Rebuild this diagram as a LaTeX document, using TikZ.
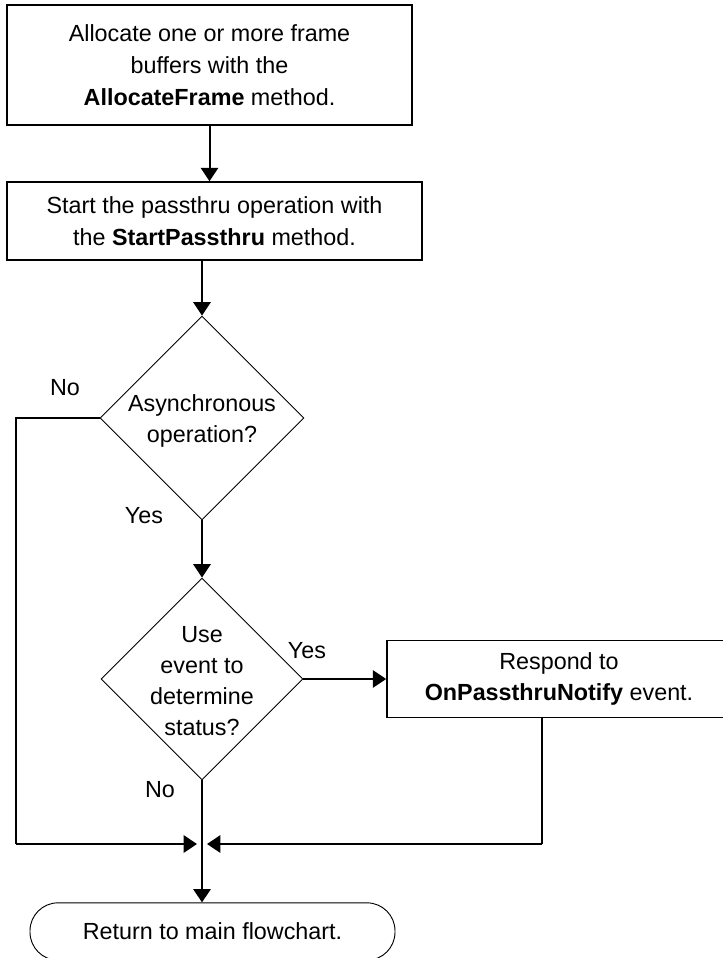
\documentclass[tikz,border=0pt]{standalone}
\usepackage{fontspec}
\setmainfont{Liberation Sans}
\usetikzlibrary{shapes.geometric,arrows.meta}
\begin{document}
\begin{tikzpicture}[x=0.75pt,y=-0.75pt,
  txt/.style={font=\fontsize{17.5pt}{23.25pt}\selectfont,align=center,inner sep=0pt},
  process/.style={draw,line width=1.25pt,inner sep=0pt,font=\fontsize{17.5pt}{23.75pt}\selectfont,align=center},
  decision/.style={draw,diamond,line width=0.7pt,inner sep=0pt,aspect=1},
  terminal/.style={draw,line width=0.7pt,rounded corners=21pt,inner sep=0pt,font=\fontsize{17.5pt}{23pt}\selectfont},
  conn/.style={line width=1.5pt},
  arr/.style={conn,-{Triangle[length=10pt,width=13pt]}},
  lbl/.style={font=\fontsize{17.5pt}{20pt}\selectfont,inner sep=0pt}
]
\useasboundingbox (0,0) rectangle (723,958);
\clip (0,0) rectangle (723,958);

% process boxes
\node[process,minimum width=303.75pt,minimum height=90pt] (alloc) at (209.5,65)
  {Allocate one or more frame\\buffers with the\\\textbf{AllocateFrame} method.};
\node[process,minimum width=311.25pt,minimum height=58.5pt] (start) at (214.5,221)
  {Start the passthru operation with\\the \textbf{StartPassthru} method.};

% decisions
\node[decision,minimum width=153pt,minimum height=153pt] (async) at (202,418) {};
\node[txt] (asynct) at (202,421) {Asynchronous\\operation?};
\node[decision,minimum width=151.5pt,minimum height=151.5pt] (event) at (202,679) {};
\node[txt] (eventt) at (202,681) {Use\\event to\\determine\\status?};

% notification handler box
\node[process,minimum width=258pt,minimum height=57.75pt] (notify) at (559,679)
  {Respond to\\\textbf{OnPassthruNotify} event.};

% terminal
\node[terminal,minimum width=273.75pt,minimum height=43pt] (ret) at (212.5,931.5)
  {Return to main flowchart.};

% branch labels
\node[lbl] (no1) at (65,388) {No};
\node[lbl] (yes1) at (144,516) {Yes};
\node[lbl] (yes2) at (307,651) {Yes};
\node[lbl] (no2) at (160,790) {No};

% routing points
\coordinate (lt) at (16,418);
\coordinate (lb) at (16,844);
\coordinate (jl) at (197,844);
\coordinate (jr) at (207,844);
\coordinate (rb) at (542,844);

% connectors
\draw[arr] (alloc.south) -- (alloc.south |- start.north);
\draw[arr] (async.north |- start.south) -- (async.north);
\draw[arr] (async.south) -- (event.north);
\draw[arr] (event.east) -- (event.east -| notify.west);
\draw[arr] (event.south) -- (event.south |- ret.north);
\draw[conn] (async.west) -- (lt) -- (lb);
\draw[arr] (lb) -- (jl);
\draw[conn] (notify.south -| rb) -- (rb);
\draw[arr] (rb) -- (jr);
\end{tikzpicture}
\end{document}
